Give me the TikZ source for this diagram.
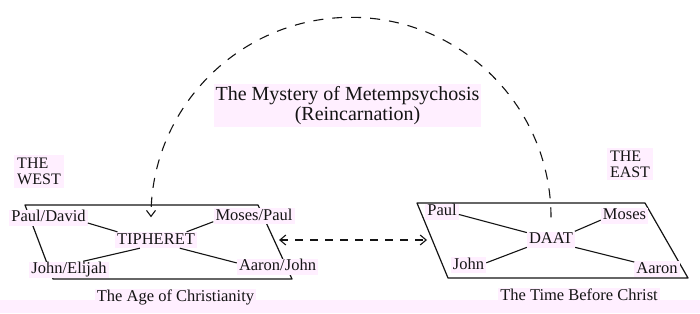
\documentclass[tikz,border=0pt]{standalone}
\usepackage{fontspec}
\setmainfont{Liberation Serif}
\usetikzlibrary{arrows.meta}
\definecolor{blush}{RGB}{255,239,255}
\definecolor{ink}{RGB}{20,20,20}
\begin{document}
\begin{tikzpicture}[x=1pt,y=-1pt,
  lbl/.style={fill=blush, text=ink, inner xsep=2pt, inner ysep=1pt,
    text height=11pt, text depth=3pt, font=\fontsize{16.5}{17}\selectfont},
  heading/.style={fill=blush, text=ink, inner xsep=3pt, inner ysep=3pt,
    align=left, font=\fontsize{16}{16}\selectfont},
  edge/.style={draw=ink, line width=1.1pt},
  frame/.style={draw=ink, line width=1.2pt, line join=round},
  loop/.style={draw=ink, line width=1.1pt, dash pattern=on 10pt off 9pt},
  barb/.tip={Straight Barb[length=6pt,width=10pt]}]
\useasboundingbox (0,0) rectangle (700,313);
\fill[blush] (0,300) rectangle (700,313);

% the two planes
\coordinate (wA) at (25,205);  \coordinate (wB) at (258,205);
\coordinate (wC) at (292,279); \coordinate (wD) at (53,279);
\coordinate (eA) at (417,203); \coordinate (eB) at (645,203);
\coordinate (eC) at (688,278); \coordinate (eD) at (448,278);
\draw[frame] (wA) -- (wB) -- (wC) -- (wD) -- cycle;
\draw[frame] (eA) -- (eB) -- (eC) -- (eD) -- cycle;

% headings and captions
\node[fill=blush, text=ink, align=center, inner sep=2pt,
  font=\fontsize{20}{20}\selectfont] (title) at (347.5,105.5)
  {The Mystery of Metempsychosis\\\hspace*{20pt}(Reincarnation)};
\node[heading] (west) at (39,171.5) {THE\\WEST};
\node[heading] (east) at (630,164) {THE\\EAST};
\node[lbl] (capW) at (175.5,297) {The Age of Christianity};
\node[lbl] (capE) at (579,296) {The Time Before Christ};

% the age of Christianity
\node[lbl] (tip) at (156,240) {TIPHERET};
\node[lbl] (pd) at (48.5,217.5) {Paul/David};
\node[lbl] (mp) at (254,216) {Moses/Paul};
\node[lbl] (je) at (69,269.5) {John/Elijah};
\node[lbl] (aj) at (277.5,266.5) {Aaron/John};
\draw[edge] (pd.-8) -- (tip.168);
\draw[edge] (mp.188) -- (tip.15);
\draw[edge] (tip.207) -- (je.30);
\draw[edge] (tip.-19) -- (aj.175);

% the time before Christ
\node[lbl] (daat) at (551,239.5) {DAAT};
\node[lbl] (paul) at (442,211.5) {Paul};
\node[lbl] (moses) at (624.5,215.5) {Moses};
\node[lbl] (john) at (468.5,265) {John};
\node[lbl] (aaron) at (657,269) {Aaron};
\draw[edge] (paul.-10) -- (daat.164);
\draw[edge] (moses.191) -- (daat.19);
\draw[edge] (daat.198) -- (john.7);
\draw[edge] (daat.-18) -- (aaron.163);

% links between the two planes
\draw[loop, -{Straight Barb[length=6pt,width=9pt]}]
  ([yshift=14pt]daat.north) arc[start angle=0, end angle=-180, radius=200];
\coordinate (wSide) at (279,240);
\coordinate (eSide) at (427,240);
\draw[loop, dash pattern=on 8pt off 7pt, barb-barb] (wSide) -- (eSide);
\end{tikzpicture}
\end{document}
